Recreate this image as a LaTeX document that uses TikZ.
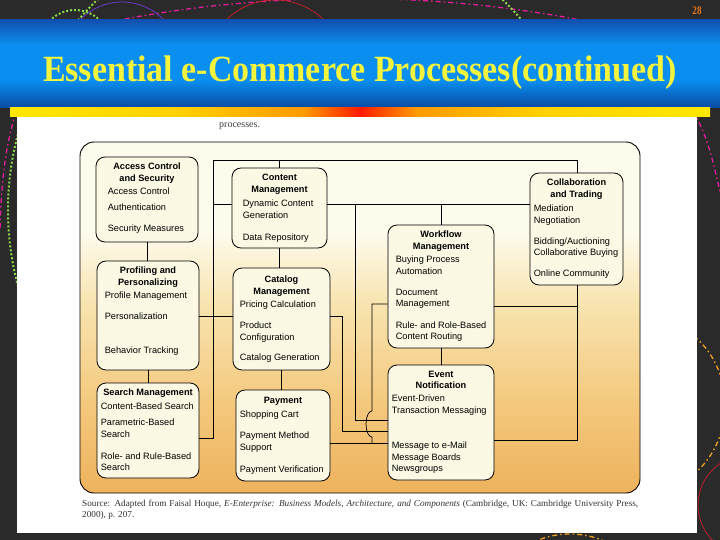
\documentclass[tikz,border=0pt]{standalone}
\usepackage{fontspec}
\setmainfont{Liberation Serif}
\newfontfamily\figsans{Liberation Sans}
\usepackage{graphicx}
\usetikzlibrary{positioning}

\definecolor{slidebg}{HTML}{2A2A2A}
\definecolor{bannerTop}{HTML}{1150B0}
\definecolor{bannerMid}{HTML}{0A8FF0}
\definecolor{bannerBot}{HTML}{0A4AA2}
\definecolor{titleyellow}{HTML}{F2F43E}
\definecolor{pageorange}{HTML}{E8781E}
\definecolor{baryellow}{HTML}{FFE800}
\definecolor{barorange}{HTML}{FF9A00}
\definecolor{barred}{HTML}{FF1A00}
\definecolor{figtop}{HTML}{FDFBEC}
\definecolor{figmid}{HTML}{F8E4B0}
\definecolor{figlow}{HTML}{F4C97E}
\definecolor{figbot}{HTML}{EEB25C}
\definecolor{boxfill}{HTML}{FBF9E4}
\definecolor{decomag}{HTML}{E0209A}
\definecolor{decogreen}{HTML}{8CD64A}
\definecolor{decopurple}{HTML}{6A3CC8}
\definecolor{decored}{HTML}{D0202A}
\definecolor{decoorange}{HTML}{F0A020}

\pgfdeclarehorizontalshading{barshade}{100bp}{color(0bp)=(baryellow); color(25bp)=(baryellow);
  color(37bp)=(baryellow!70!barorange); color(46bp)=(barorange); color(50bp)=(barred);
  color(54bp)=(barorange); color(63bp)=(baryellow!70!barorange); color(75bp)=(baryellow); color(100bp)=(baryellow)}
\pgfdeclareverticalshading{figshade}{100bp}{color(0bp)=(figbot); color(25bp)=(figbot);
  color(38bp)=(figlow); color(52bp)=(figmid); color(62bp)=(figtop); color(75bp)=(figtop); color(100bp)=(figtop)}
\pgfdeclareverticalshading{bannershade}{100bp}{color(0bp)=(bannerBot); color(25bp)=(bannerBot);
  color(41bp)=(bannerMid); color(61bp)=(bannerMid); color(75bp)=(bannerTop); color(100bp)=(bannerTop)}

\begin{document}
\begin{tikzpicture}[x=1pt,y=-1pt,
  procbox/.style={draw, fill=boxfill, rounded corners=9pt, inner sep=0pt, line width=0.8pt},
  boxtitle/.style={font=\figsans\bfseries\fontsize{9.2}{11.3}\selectfont, align=center, inner sep=0pt},
  boxitems/.style={font=\figsans\fontsize{9.2}{11.3}\selectfont, align=left, inner sep=0pt},
  link/.style={line width=0.7pt},
  deco/.style={line width=1.3pt, dash pattern=on 5pt off 3pt on 1.5pt off 3pt}]

  \useasboundingbox (0,0) rectangle (720,540);
  \fill[slidebg] (0,0) rectangle (720,540);

  % slide decoration
  \draw[deco, decomag] (100,24) .. controls (260,-10) and (440,-10) .. (600,24);
  \draw[deco, decomag] (688,100) .. controls (708,140) .. (722,200);
  \draw[deco, decomag] (16,112) .. controls (4,150) and (1,190) .. (0,230);
  \draw[decopurple, line width=0.8pt] (122,60) circle[radius=58];
  \draw[decored, line width=0.7pt] (275,70) circle[radius=70];
  \draw[decogreen, dotted, line width=2pt] (75,45) circle[radius=35];
  \draw[decogreen, dotted, line width=2pt] (300,210) circle[radius=292];
  \draw[deco, decoorange] (650,405) ellipse[x radius=75, y radius=85];
  \draw[decored, line width=0.7pt] (748,505) circle[radius=50];
  \draw[deco, decoorange] (570,620) circle[radius=86];

  % banner and content area
  \shade[shading=bannershade] (0,20) rectangle (720,108);
  \shade[shading=barshade] (10,108) rectangle (710,117);
  \fill[white] (17,117) rectangle (697,533);

  \node[font=\fontsize{37}{37}\selectfont\bfseries, text=titleyellow, anchor=base] (title) at (360,82)
    {\scalebox{0.917}[1]{Essential e-Commerce Processes(continued)}};
  \node[font=\fontsize{11.5}{11.5}\selectfont\bfseries, text=pageorange, anchor=base] (pagenum) at (697,15)
    {\scalebox{0.8}[1]{28}};
  \node[font=\fontsize{10}{10}\selectfont, text=black!75, anchor=base west, inner sep=0pt] (prevcap) at (219,128) {processes.};

  % figure frame
  \node[draw, line width=0.9pt, rounded corners=14pt, shade, shading=figshade,
    minimum width=560pt, minimum height=351pt, inner sep=0pt] (frame) at (360,317.5) {};

  % process boxes
  \node[procbox, minimum width=102pt, minimum height=85pt] (acs) at (147,199.5) {};
  \node[procbox, minimum width=102pt, minimum height=109pt] (prof) at (148,315.5) {};
  \node[procbox, minimum width=102pt, minimum height=95pt] (srch) at (148,430.5) {};
  \node[procbox, minimum width=95pt, minimum height=80pt] (cont) at (279.5,208) {};
  \node[procbox, minimum width=97pt, minimum height=102pt] (cat) at (281.5,319) {};
  \node[procbox, minimum width=94pt, minimum height=91pt] (pay) at (283,435.5) {};
  \node[procbox, minimum width=106pt, minimum height=123pt] (wf) at (441,286.5) {};
  \node[procbox, minimum width=106pt, minimum height=115pt] (ev) at (441,422.5) {};
  \node[procbox, minimum width=93pt, minimum height=112pt] (collab) at (576.5,229) {};

  \node[boxtitle, below=6.5pt of acs.north] (acsT) {Access Control\\and Security};
  \node[boxitems, below right=31.5pt and 12pt of acs.north west] (acsI)
    {Access Control\\[4.7pt]Authentication\\[9.7pt]Security Measures};

  \node[boxtitle, below=6.5pt of prof.north] (profT) {Profiling and\\Personalizing};
  \node[boxitems, below right=31.5pt and 8pt of prof.north west] (profI)
    {Profile Management\\[9.7pt]Personalization\\[22.7pt]Behavior Tracking};

  \node[boxtitle, below=6.5pt of srch.north] (srchT) {Search Management};
  \node[boxitems, below right=20.5pt and 4pt of srch.north west] (srchI)
    {Content-Based Search\\[4.7pt]Parametric-Based\\Search\\[10.7pt]Role- and Rule-Based\\Search};

  \node[boxtitle, below=6.5pt of cont.north] (contT) {Content\\Management};
  \node[boxitems, below right=32.5pt and 11pt of cont.north west] (contI)
    {Dynamic Content\\Generation\\[10.7pt]Data Repository};

  \node[boxtitle, below=8.5pt of cat.north] (catT) {Catalog\\Management};
  \node[boxitems, below right=33.5pt and 7pt of cat.north west] (catI)
    {Pricing Calculation\\[9.7pt]Product\\[0.7pt]Configuration\\[8.7pt]Catalog Generation};

  \node[boxtitle, below=7.5pt of pay.north] (payT) {Payment};
  \node[boxitems, below right=21.5pt and 4pt of pay.north west] (payI)
    {Shopping Cart\\[9.7pt]Payment Method\\Support\\[10.7pt]Payment Verification};

  \node[boxtitle, below=6.5pt of wf.north] (wfT) {Workflow\\Management};
  \node[boxitems, below right=31.5pt and 8pt of wf.north west] (wfI)
    {Buying Process\\Automation\\[9.7pt]Document\\Management\\[10.7pt]Rule- and Role-Based\\Content Routing};

  \node[boxtitle, below=6.5pt of ev.north] (evT) {Event\\Notification};
  \node[boxitems, below right=30.5pt and 4pt of ev.north west] (evI)
    {Event-Driven\\[0.7pt]Transaction Messaging\\[23.7pt]Message to e-Mail\\Message Boards\\Newsgroups};

  \node[boxtitle, below=6.5pt of collab.north] (collabT) {Collaboration\\and Trading};
  \node[boxitems, below right=32.5pt and 4pt of collab.north west] (collabI)
    {Mediation\\Negotiation\\[9.7pt]Bidding/Auctioning\\Collaborative Buying\\[9.7pt]Online Community};

  % connectors
  \coordinate (busTop) at (213,160);
  \coordinate (busBot) at (213,438);
  \coordinate (topRight) at (577,160);
  \coordinate (contRow) at (213,204);
  \coordinate (dropA) at (355,204);
  \coordinate (dropAEnd) at (355,420);
  \coordinate (dropB) at (342,316);
  \coordinate (dropBEnd) at (342,431);
  \coordinate (hopTop) at (372,304);
  \coordinate (hopStart) at (372,411);
  \coordinate (hopEnd) at (372,443);
  \coordinate (wfRight) at (577,306);
  \coordinate (evRight) at (577,440);

  \draw[link] (srch.east |- busBot) -- (busBot) -- (busTop) -- (topRight) -- (topRight |- collab.north);
  \draw[link] (cont.north |- busTop) -- (cont.north);
  \draw[link] (contRow) -- (contRow -| cont.west);
  \draw[link] (cont.east |- dropA) -- (collab.west |- dropA);
  \draw[link] (wf.north |- dropA) -- (wf.north);
  \draw[link] (dropA) -- (dropAEnd) -- (dropAEnd -| ev.west);
  \draw[link] (acs.south) -- (acs.south |- prof.north);
  \draw[link] (prof.south) -- (prof.south |- srch.north);
  \draw[link] (cont.south) -- (cont.south |- cat.north);
  \draw[link] (cat.south) -- (cat.south |- pay.north);
  \draw[link] (wf.south) -- (wf.south |- ev.north);
  \draw[link] (prof.east |- dropB) -- (cat.west |- dropB);
  \draw[link] (cat.east |- dropB) -- (dropB) -- (dropBEnd) -- (dropBEnd -| ev.west);
  \draw[link] (wf.west |- hopTop) -- (hopTop) -- (hopStart)
    arc[start angle=270, end angle=90, x radius=6, y radius=13] -- (hopEnd);
  \draw[link] (pay.east |- hopEnd) -- (ev.west |- hopEnd);
  \draw[link] (wf.east |- wfRight) -- (wfRight);
  \draw[link] (collab.south -| evRight) -- (evRight) -- (evRight -| ev.east);

  % source line
  \node[font=\fontsize{9.2}{11}\selectfont, text=black!80, align=left, anchor=base west, inner sep=0pt] (source) at (82,517)
    {\makebox[556pt][s]{Source: Adapted from Faisal Hoque, \textit{E-Enterprise: Business Models, Architecture, and Components} (Cambridge, UK: Cambridge University Press,}\\2000), p. 207.};
\end{tikzpicture}
\end{document}
